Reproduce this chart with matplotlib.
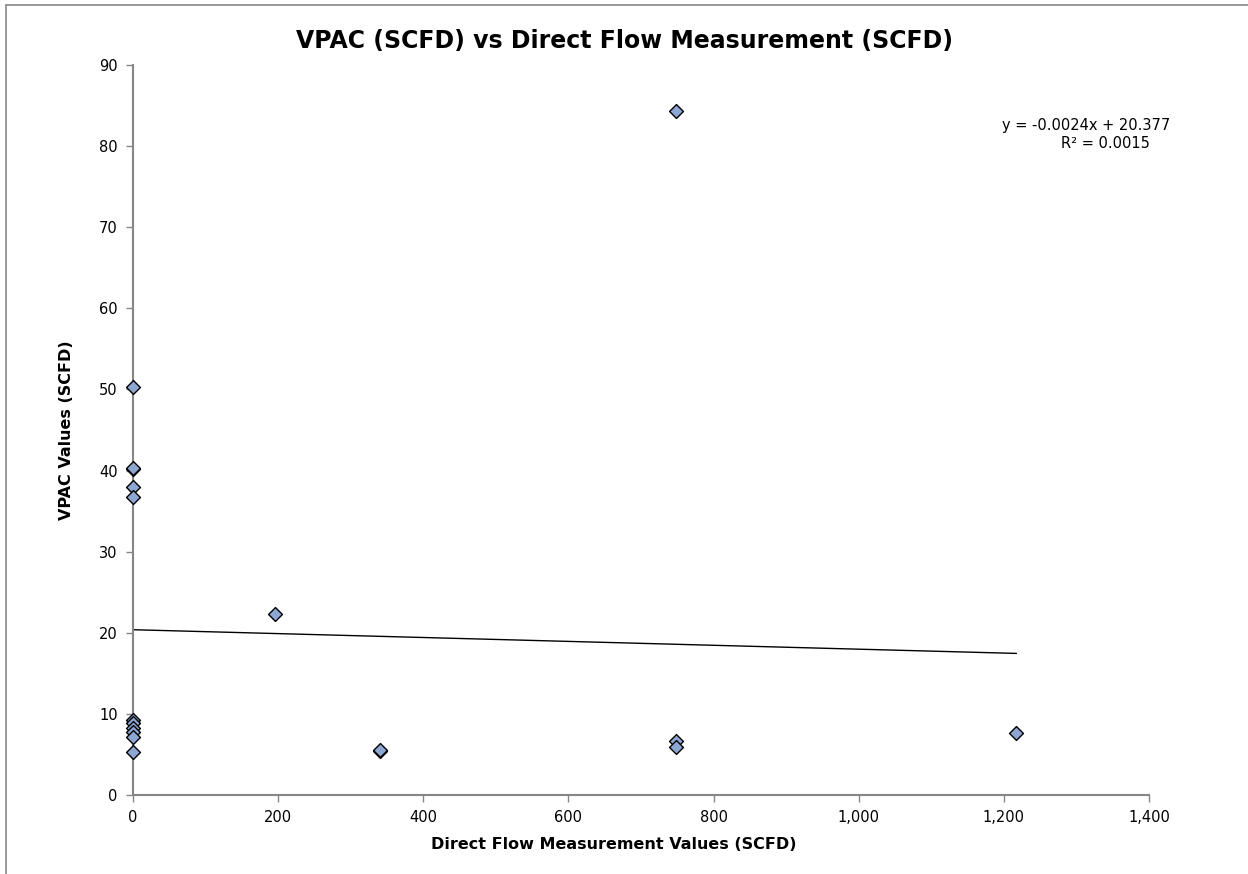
import matplotlib.pyplot as plt
from matplotlib.ticker import FuncFormatter, MultipleLocator
from matplotlib.patches import Rectangle

direct_flow = [0, 0, 0, 0, 0, 195, 0, 0, 0, 0, 0, 0, 340, 340, 748, 748, 748, 1217]
vpac_values = [50.3, 40.2, 40.3, 38.0, 36.7, 22.3, 9.2, 8.9, 8.2, 7.8, 7.2, 5.3, 5.4, 5.6, 84.3, 6.7, 5.9, 7.6]

# trendline as printed on the chart
slope = -0.0024
intercept = 20.377
r_squared = 0.0015

grey = "#868686"

fig = plt.figure(figsize=(12.48, 8.74), dpi=100)
ax = fig.add_axes([0.1066, 0.0904, 0.8141, 0.8352])

ax.scatter(direct_flow, vpac_values, marker="D", s=50, facecolor="#8EA6D2",
           edgecolor="black", linewidth=1.0, zorder=3, clip_on=False)

x_end = max(direct_flow)
ax.plot([0, x_end], [intercept, intercept + slope * x_end], color="black", linewidth=1.0, zorder=2)

ax.set_xlim(0, 1400)
ax.set_ylim(0, 90)
ax.xaxis.set_major_locator(MultipleLocator(200))
ax.yaxis.set_major_locator(MultipleLocator(10))
ax.xaxis.set_major_formatter(FuncFormatter(lambda v, p: f"{v:,.0f}"))

for side in ["top", "right"]:
    ax.spines[side].set_visible(False)
for side in ["left", "bottom"]:
    ax.spines[side].set_color(grey)
    ax.spines[side].set_linewidth(1.5)
ax.tick_params(direction="out", length=5, width=1, color=grey, labelsize=10.5, pad=6)

ax.set_xlabel("Direct Flow Measurement Values (SCFD)", fontsize=11.5, fontweight="bold", labelpad=10)
ax.xaxis.set_label_coords(0.473, -0.058)
ax.set_ylabel("VPAC Values (SCFD)", fontsize=11.5, fontweight="bold", labelpad=18)
fig.text(0.5, 0.953, "VPAC (SCFD) vs Direct Flow Measurement (SCFD)", ha="center", va="center",
         fontsize=17, fontweight="bold")

fig.text(0.9375, 0.856, f"y = {slope}x + {intercept}", ha="right", va="center", fontsize=10.5)
fig.text(0.921, 0.836, f"R² = {r_squared}", ha="right", va="center", fontsize=10.5)

# chart frame
fig.patches.append(Rectangle((6 / 1248, -0.1), 1.2, 1.1 - 5 / 874, transform=fig.transFigure,
                             fill=False, edgecolor=grey, linewidth=1.2))

fig.savefig("out.png", dpi=100)
